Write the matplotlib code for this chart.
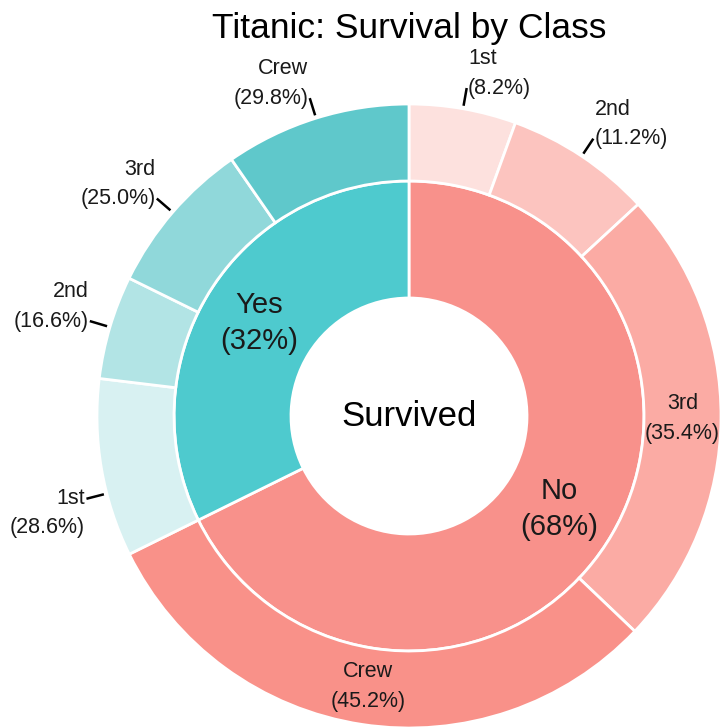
import numpy as np
import matplotlib
matplotlib.use("Agg")
from matplotlib import pyplot as plt

# Titanic passenger counts, split by survival then by class
survived = ["No", "Yes"]
survivedCounts = [1490, 711]
classes = ["1st", "2nd", "3rd", "Crew"]
noByClass = [122, 167, 528, 673]
yesByClass = [203, 118, 178, 212]

innerColors = ["#F8918B", "#4ECACE"]
noColors = ["#FDE1DE", "#FCC4BF", "#FBABA4", "#F99189"]
yesColors = ["#D8F1F2", "#B2E4E5", "#90D8DA", "#5FC8CB"]

plt.rcParams['font.family'] = ['Liberation Sans', 'DejaVu Sans']

fig = plt.figure(figsize=(7.23, 7.27), dpi=100)
ax = fig.add_axes([0, 0, 1, 1])

# radii in pixels (axes units == pixels)
rOuter = 312
rMid = 235
rHole = 118
wp = dict(edgecolor='white', linewidth=2)

innerWedges, _ = ax.pie(survivedCounts, radius=rMid, colors=innerColors,
                        startangle=90, counterclock=False,
                        wedgeprops=dict(width=rMid - rHole, **wp))

outerValues = noByClass + yesByClass
outerLabels = classes + classes
outerColors = noColors + yesColors
outerWedges, _ = ax.pie(outerValues, radius=rOuter, colors=outerColors,
                        startangle=90, counterclock=False,
                        wedgeprops=dict(width=rOuter - rMid, **wp))

# inner labels
total = float(sum(survivedCounts))
for w, name, n in zip(innerWedges, survived, survivedCounts):
    ang = np.deg2rad((w.theta1 + w.theta2) / 2.0)
    r = (rMid + rHole) / 2.0
    ax.text(r * np.cos(ang), r * np.sin(ang),
            "%s\n(%d%%)" % (name, round(n / total * 100)),
            ha='center', va='center', fontsize=21, linespacing=1.35,
            color='#1a1a1a')

# outer labels (small angular nudge for the crowded "1st" survivors label)
nudge = [0, 0, 0, 0, 4.7, 0, 0, 0]
groupTotals = [sum(noByClass)] * 4 + [sum(yesByClass)] * 4
pitch = 21  # points between the two label lines
for w, name, n, t, nd in zip(outerWedges, outerLabels, outerValues,
                             groupTotals, nudge):
    pct = "(%.1f%%)" % (n / float(t) * 100)
    span = w.theta2 - w.theta1
    ang = np.deg2rad((w.theta1 + w.theta2) / 2.0 + nd)
    c, s = np.cos(ang), np.sin(ang)
    if span > 60:
        r = (rOuter + rMid) / 2.0
        ax.text(r * c, r * s, name + "\n" + pct, ha='center', va='center',
                fontsize=15.5, linespacing=1.55, color='#1a1a1a')
        continue
    r0, r1 = rOuter + 3, rOuter + 21
    ax.plot([r0 * c, r1 * c], [r0 * s, r1 * s], color='black', linewidth=1.8,
            solid_capstyle='butt')
    ha = 'left' if c > 0 else 'right'
    dx = 1 if c > 0 else -1
    if s > 0:
        offs = [(name, pitch), (pct, 0)]
    else:
        offs = [(name, 0), (pct, -pitch)]
    for txt, dy in offs:
        ax.annotate(txt, xy=(r1 * c, r1 * s), xytext=(dx, dy),
                    textcoords='offset points', ha=ha, va='center',
                    fontsize=15.5, color='#1a1a1a')

ax.text(0, 0, "Survived", ha='center', va='center', fontsize=25, color='black')

ax.set_xlim(-409, 723 - 409)
ax.set_ylim(-(727 - 416), 416)
ax.set_aspect('equal')
ax.axis('off')

fig.text(409 / 723.0, 1 - 38 / 727.0, "Titanic: Survival by Class",
         ha='center', va='baseline', fontsize=25.5, color='black')

plt.savefig("out.png", dpi=100)
plt.clf()
